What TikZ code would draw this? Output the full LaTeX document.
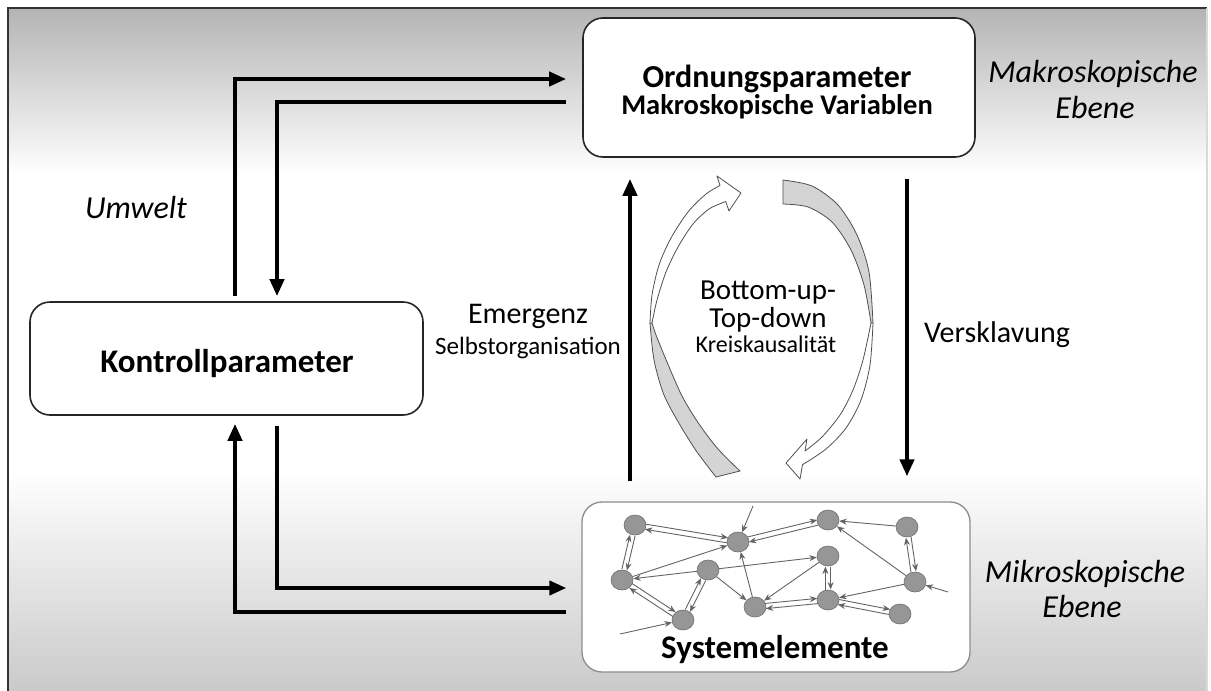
\documentclass[tikz,border=0pt]{standalone}
\usepackage{fontspec}
\setmainfont{Carlito}
\usetikzlibrary{arrows.meta,calc,shapes.geometric}
\definecolor{bgtop}{RGB}{180,180,180}
\definecolor{bgbot}{RGB}{202,202,202}
\definecolor{netfill}{RGB}{150,150,150}
\definecolor{netdraw}{RGB}{110,110,110}
\definecolor{netline}{RGB}{100,100,100}
\definecolor{ribgray}{RGB}{212,212,212}
\definecolor{riblne}{RGB}{80,80,80}
\newcommand\dblEdge[2]{%
  \draw[nl,shorten >=10.5pt,shorten <=10.5pt] ($(#1)!2.6pt!90:(#2)$) -- ($(#2)!2.6pt!-90:(#1)$);
  \draw[nl,shorten >=10.5pt,shorten <=10.5pt] ($(#2)!2.6pt!90:(#1)$) -- ($(#1)!2.6pt!-90:(#2)$);}
\tikzset{
  rbox/.style={draw=black!85, line width=1.6pt, rounded corners=20pt, fill=white},
  bigarrow/.style={line width=4pt, -{Triangle[length=17pt,width=14pt]}},
  net/.style={ellipse, minimum width=22pt, minimum height=20pt, inner sep=0pt, fill=netfill, draw=netdraw, line width=0.6pt},
  nl/.style={draw=netline, line width=0.9pt, -{Stealth[length=7.5pt,width=6pt]}},
  ribbon/.style={draw=riblne, line width=0.8pt, line join=round},
  txt/.style={anchor=base, inner sep=0pt},
  fbig/.style={txt, font=\fontsize{33}{38}\selectfont\bfseries},
  fmid/.style={txt, font=\fontsize{30}{35}\selectfont},
  fsmall/.style={txt, font=\fontsize{25}{30}\selectfont},
  fital/.style={txt, font=\fontsize{32}{37}\selectfont\itshape},
}
\begin{document}
\begin{tikzpicture}[x=1pt,y=-1pt]
\useasboundingbox (0,0) rectangle (1211,691);
% background
\fill[white] (0,0) rectangle (1211,691);
\shade[top color=bgtop, bottom color=white] (8,8) rectangle (1207,175);
\fill[white] (8,175) rectangle (1207,470);
\shade[top color=white, bottom color=bgbot] (8,470) rectangle (1207,691);
\draw[black!80, line width=1.5pt] (8,691) -- (8,8) -- (1207,8);
\draw[black!15, line width=1.5pt] (1207,8) -- (1207,691);

% boxes
\node[rbox, minimum width=392pt, minimum height=139pt] (op) at (779,87.5) {};
\node[txt, font=\fontsize{32}{37}\selectfont\bfseries] (opt1) at (777,87) {Ordnungsparameter};
\node[txt, font=\fontsize{28.5}{33}\selectfont\bfseries] (opt2) at (777,114) {Makroskopische Variablen};
\node[rbox, minimum width=393pt, minimum height=113pt] (kp) at (226.5,358.5) {};
\node[fbig] (kptext) at (227,372) {Kontrollparameter};
\node[rbox, draw=black!45, line width=1.3pt, minimum width=388pt, minimum height=170pt] (se) at (776,587) {};
\node[fbig] (setext) at (775,658) {Systemelemente};

% helper coordinates
\coordinate (upx) at (630,0);
\coordinate (dnx) at (907,0);

% left connectors
\draw[bigarrow, shorten >=16pt] ([xshift=8.5pt,yshift=5pt]kp.north) |- ([yshift=8.5pt]op.west);
\draw[bigarrow] ([xshift=-16pt,yshift=-14.5pt]op.west) -| ([xshift=50.5pt,yshift=5pt]kp.north);
\draw[bigarrow] ([xshift=50.5pt,yshift=-10pt]kp.south) |- ([xshift=-15pt,yshift=-1pt]se.west);
\draw[bigarrow] ([xshift=-15pt,yshift=-25pt]se.west) -| ([xshift=8.5pt,yshift=-8pt]kp.south);

% vertical arrows
\draw[bigarrow, shorten <=20pt, shorten >=21pt] (se.north -| upx) -- (op.south -| upx);
\draw[bigarrow, shorten <=21pt, shorten >=25pt] (op.south -| dnx) -- (se.north -| dnx);

% labels
\node[fital] (umw) at (136,218) {Umwelt};
\node[fmid] (emerg) at (528,323) {Emergenz};
\node[fsmall] (selbst) at (528,354) {Selbstorganisation};
\node[txt, font=\fontsize{29}{34}\selectfont] (bu) at (768,299) {Bottom-up-};
\node[txt, font=\fontsize{29}{34}\selectfont] (td) at (768,327) {Top-down};
\node[txt, font=\fontsize{24}{29}\selectfont] (kk) at (766,352) {Kreiskausalität};
\node[fmid, anchor=base west] (vers) at (924,342) {Versklavung};
\node[fital] (makro1) at (1093,82) {Makroskopische};
\node[fital] (makro2) at (1095,118) {Ebene};
\node[fital] (mikro1) at (1085,582) {Mikroskopische};
\node[fital] (mikro2) at (1082,617) {Ebene};

% circular ribbon arrows
% left: lower gray part
\filldraw[ribbon, fill=ribgray] plot[smooth] coordinates {(650,323) (654,360) (664,395) (680,425) (697,452) (716,477)}
  -- plot[smooth] coordinates {(740,471) (718,449) (699,424) (682,396) (667,362) (656,335) (652,323)} -- cycle;
% left: upper white part with head
\filldraw[ribbon, fill=white] plot[smooth] coordinates {(650,323) (652,295) (659,265) (671,238) (688,212) (706,194) (720,185.5)}
  -- (717,176) -- (741,193) -- (729,211)
  -- plot[smooth] coordinates {(725.8,201.5) (709,209) (693,224) (678,247) (666,272) (657,300) (652,323)} -- cycle;
% right: upper gray part
\filldraw[ribbon, fill=ribgray] plot[smooth] coordinates {(783,180) (812,186) (838,205) (857,235) (869,272) (873,323)}
  -- plot[smooth] coordinates {(871,323) (864,285) (851,250) (832,222) (808,207) (783,204)} -- cycle;
% right: lower white part with head
\filldraw[ribbon, fill=white] plot[smooth] coordinates {(873,323) (870,365) (861,400) (846,428) (826,449) (802.5,464.7)}
  -- (800,479) -- (786,463) -- (807,439)
  -- plot[smooth] coordinates {(805,451) (822,437) (840,415) (853,390) (863,360) (871,323)} -- cycle;

% network
\node[net] (A) at (635,525) {};
\node[net] (B) at (738,542) {};
\node[net] (C) at (828,520) {};
\node[net] (D) at (907,527) {};
\node[net] (E) at (622,580) {};
\node[net] (F) at (708,570) {};
\node[net] (G) at (828,556) {};
\node[net] (H) at (915,582) {};
\node[net] (I) at (683,620) {};
\node[net] (J) at (755,607) {};
\node[net] (K) at (828,600) {};
\node[net] (L) at (900,614) {};
\coordinate (x1) at (753,506);
\coordinate (x2) at (948,592);
\coordinate (x3) at (620,634);

\dblEdge{A}{B}
\dblEdge{A}{E}
\dblEdge{E}{I}
\dblEdge{I}{F}
\dblEdge{B}{C}
\dblEdge{D}{H}
\dblEdge{G}{K}
\dblEdge{J}{K}
\dblEdge{K}{L}
\draw[nl] (D) -- (C);
\draw[nl] (H) -- (C);
\draw[nl] (E) -- (B);
\draw[nl] (F) -- (E);
\draw[nl] (F) -- (G);
\draw[nl] (F) -- (J);
\draw[nl] (J) -- (B);
\draw[nl] (G) -- (J);
\draw[nl] (H) -- (K);
\draw[nl] (x1) -- (B);
\draw[nl] (x2) -- (H);
\draw[nl] (x3) -- (I);
\end{tikzpicture}
\end{document}
